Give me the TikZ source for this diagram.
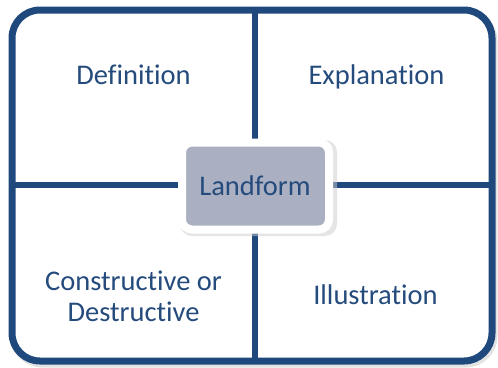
\documentclass[tikz,border=0pt]{standalone}
\usepackage{fontspec}
\setmainfont{Carlito}[Ligatures={NoCommon}]
\definecolor{frameblue}{HTML}{1F497D}
\definecolor{textblue}{HTML}{244B7C}
\definecolor{boxgray}{HTML}{AAB0C1}
\tikzset{
  frame/.style={draw=frameblue, line width=7bp, rounded corners=28bp},
  divider/.style={draw=frameblue, line width=6bp},
  label/.style={text=textblue, font=\fontsize{28.5bp}{31bp}\selectfont, inner sep=0pt, align=center},
  center box/.style={fill=boxgray, draw=white, line width=8bp, rounded corners=10bp,
    minimum width=147bp, minimum height=87bp, inner sep=0pt, text=textblue},
  shade/.style={draw=black!22, line width=7bp, rounded corners=28bp}
}
\begin{document}
\begin{tikzpicture}[x=1bp,y=-1bp]
\useasboundingbox (0,0) rectangle (498,367);
% shadow of frame
\draw[shade, opacity=0.5] (14,13) rectangle (494,364);
\coordinate (tl) at (12,10);
\coordinate (br) at (492,361);
\coordinate (ml) at (12,185);
\coordinate (mr) at (492,185);
\coordinate (mt) at (255,10);
\coordinate (mb) at (255,361);
\fill[white] (tl) [rounded corners=28bp] rectangle (br);
\draw[divider] (ml) -- (mr);
\draw[divider] (mt) -- (mb);
\draw[frame] (tl) rectangle (br);
% central node with shadow
\fill[black!20, opacity=0.5, rounded corners=12bp] (180,140) rectangle (337,236);
\node[center box] (land) at (255.5,186) {};
\node[label, anchor=base] (landt) at (255,195) {Landform};
% quadrant labels
\node[label, anchor=base] (def) at (133.5,84) {Definition};
\node[label, anchor=base] (exp) at (376.5,84) {Explanation};
\node[label, anchor=base] (ill) at (375.5,304) {Illustration};
\node[label, anchor=center] (con) at (133.5,296) {Constructive or\\Destructive};
\end{tikzpicture}
\end{document}
